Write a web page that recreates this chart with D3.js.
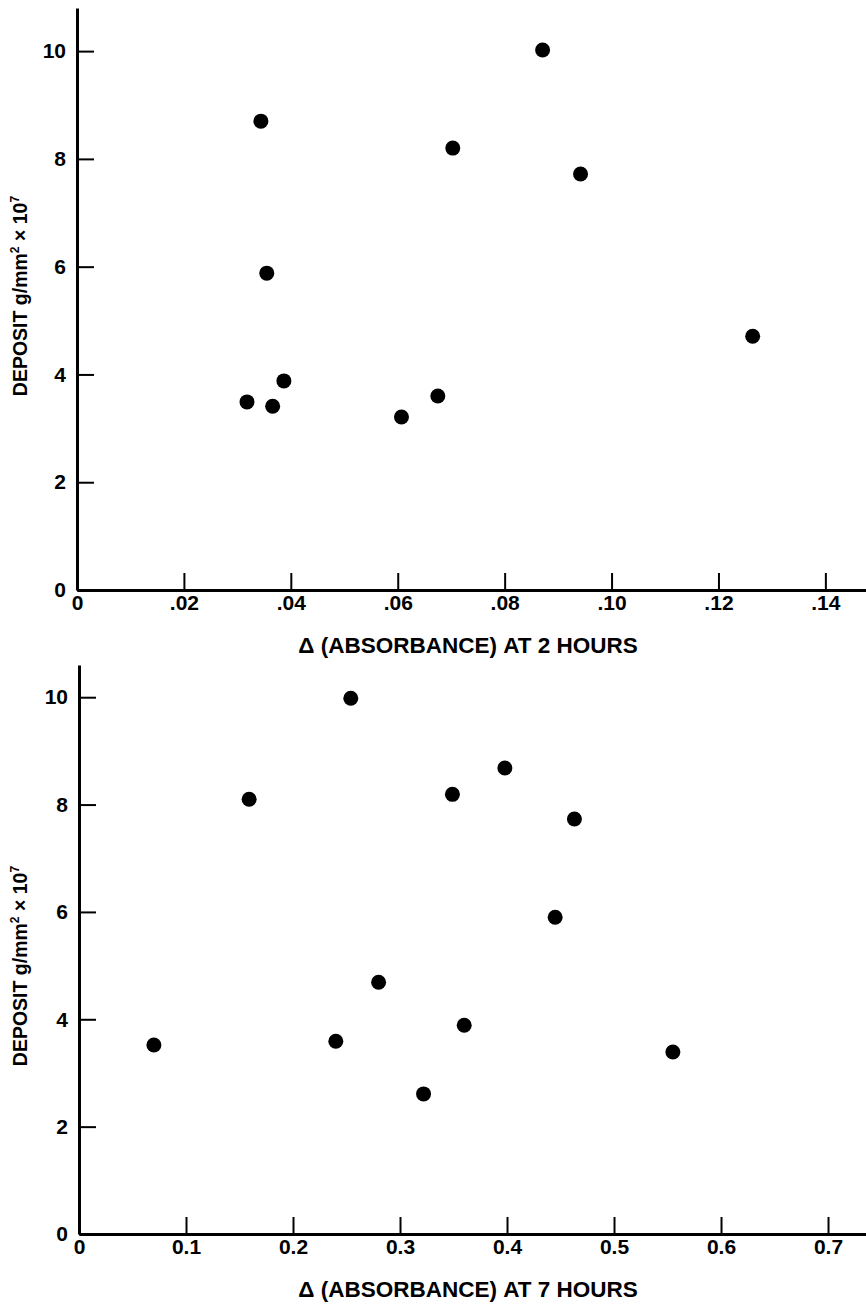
<!DOCTYPE html>
<html>
<head>
<meta charset="utf-8">
<script src="https://cdn.jsdelivr.net/npm/d3@7"></script>
<style>
  body { margin: 0; background: #fff; }
  svg { display: block; }
  text { font-family: "Liberation Sans", Arial, sans-serif; font-weight: bold; fill: #000; }
</style>
</head>
<body>
<svg width="866" height="1304"></svg>
<script>
// deposit vs delta absorbance, two panels
const abs2h = [0.0344, 0.0355, 0.0318, 0.0366, 0.0387, 0.0607, 0.0675, 0.0703, 0.0871, 0.0942, 0.1264];
const dep2h = [8.70, 5.88, 3.49, 3.41, 3.88, 3.21, 3.60, 8.20, 10.02, 7.72, 4.71];

const abs7h = [0.070, 0.159, 0.240, 0.254, 0.280, 0.322, 0.349, 0.360, 0.398, 0.445, 0.463, 0.555];
const dep7h = [3.52, 8.10, 3.59, 9.98, 4.69, 2.61, 8.19, 3.89, 8.68, 5.90, 7.73, 3.39];

const yTicks = [0, 2, 4, 6, 8, 10];
const xTicks2h = [0, 0.02, 0.04, 0.06, 0.08, 0.10, 0.12, 0.14];
const xLabels2h = ["0", ".02", ".04", ".06", ".08", ".10", ".12", ".14"];
const xTicks7h = [0, 0.1, 0.2, 0.3, 0.4, 0.5, 0.6, 0.7];
const xLabels7h = ["0", "0.1", "0.2", "0.3", "0.4", "0.5", "0.6", "0.7"];

const svg = d3.select('svg');

function panel(cfg) {
  const x = d3.scaleLinear().domain(cfg.xDomain).range([cfg.left, 866]);
  const y = d3.scaleLinear().domain([0, cfg.yMax]).range([cfg.bottom, cfg.top]);

  const g = svg.append('g');

  const xAxis = d3.axisBottom(x)
    .tickValues(cfg.xTicks)
    .tickFormat((d, i) => cfg.xLabels[i])
    .tickSizeInner(-17)
    .tickSizeOuter(0)
    .tickPadding(5);

  const yAxis = d3.axisLeft(y)
    .tickValues(yTicks)
    .tickFormat(d => String(d))
    .tickSizeInner(-17)
    .tickSizeOuter(0)
    .tickPadding(11);

  const gx = g.append('g')
    .attr('transform', `translate(0,${cfg.bottom})`)
    .call(xAxis);
  const gy = g.append('g')
    .attr('transform', `translate(${cfg.left},0)`)
    .call(yAxis);

  [gx, gy].forEach(a => {
    a.select('.domain').attr('stroke', '#000').attr('stroke-width', 3);
    a.selectAll('.tick line').attr('stroke', '#000').attr('stroke-width', 2);
    a.selectAll('.tick text')
      .style('font-family', '"Liberation Sans", Arial, sans-serif')
      .style('font-weight', 'bold')
      .attr('font-size', 21)
      .attr('fill', '#000');
  });

  g.selectAll('.dot')
    .data(cfg.xs.map((v, i) => ({ x: v, y: cfg.ys[i] })))
    .enter()
    .append('circle')
    .attr('class', 'dot')
    .attr('cx', d => x(d.x))
    .attr('cy', d => y(d.y))
    .attr('r', 7.5)
    .attr('fill', '#000');

  // x label
  g.append('text')
    .attr('x', 468)
    .attr('y', cfg.bottom + 63)
    .attr('text-anchor', 'middle')
    .attr('font-size', 22.5)
    .text(cfg.xTitle);

  // y label, rotated
  const yl = g.append('text')
    .attr('transform', `translate(27,${cfg.yTitleY}) rotate(-90)`)
    .attr('text-anchor', 'middle')
    .attr('font-size', 19.5);
  yl.append('tspan').text('DEPOSIT g/mm');
  yl.append('tspan').attr('font-size', 12).attr('dy', -8).text('2');
  yl.append('tspan').attr('dy', 8).text(' \u00d7 10');
  yl.append('tspan').attr('font-size', 12).attr('dy', -8).text('7');
}

panel({
  xs: abs2h, ys: dep2h,
  xDomain: [0, 0.1476], xTicks: xTicks2h, xLabels: xLabels2h,
  left: 77, top: 8, bottom: 590, yMax: 10.8,
  xTitle: '\u0394 (ABSORBANCE) AT 2 HOURS', yTitleY: 296
});

panel({
  xs: abs7h, ys: dep7h,
  xDomain: [0, 0.7355], xTicks: xTicks7h, xLabels: xLabels7h,
  left: 79, top: 665, bottom: 1234, yMax: 10.6,
  xTitle: '\u0394 (ABSORBANCE) AT 7 HOURS', yTitleY: 966
});
</script>
</body>
</html>
